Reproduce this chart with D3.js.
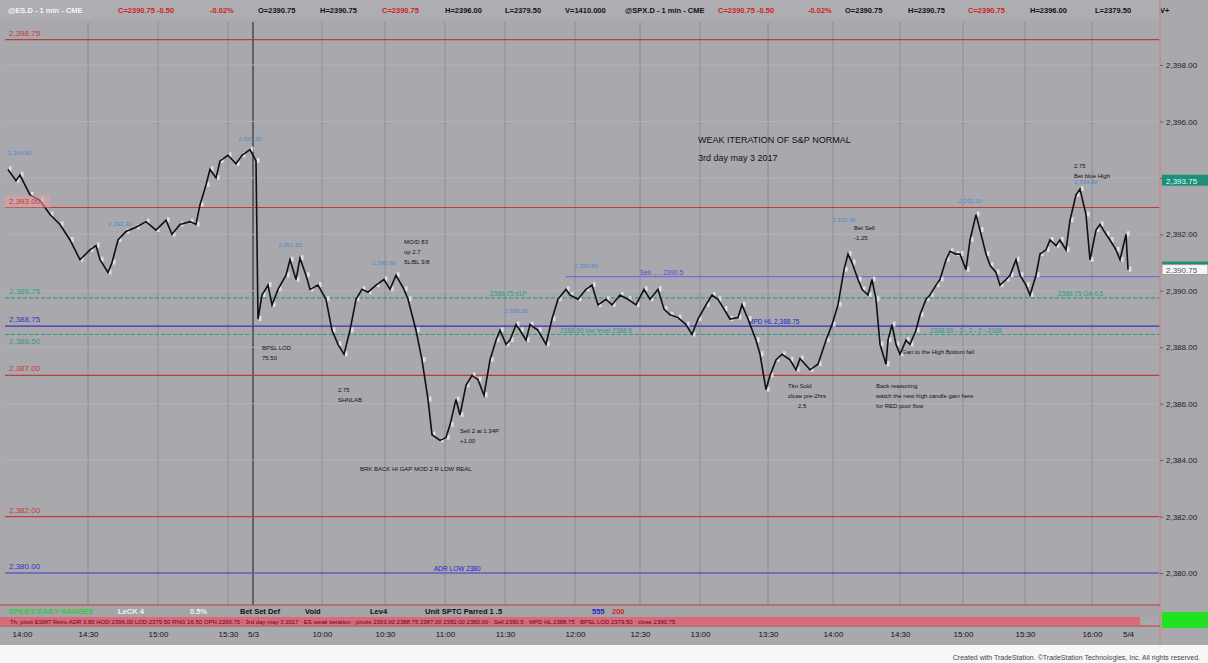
<!DOCTYPE html>
<html><head><meta charset="utf-8">
<script src="https://cdn.jsdelivr.net/npm/d3@7"></script>
<style>body{margin:0;background:#fff}svg{display:block;font-family:"Liberation Sans",Arial,sans-serif}</style>
</head><body><svg id="c" width="1208" height="663"></svg>
<script>
// ---- data ----
const bars = [0,4,6,11,16,21,26,31,36,41,44,46,50,52,55,59,64,69,74,79,82,86,91,94,96,99,101,104,106,110,114,117,121,124,
125,127,130,132,135,139,141,144,146,149,151,155,159,162,165,168,171,174,177,180,184,188,191,194,198,200,204,207,210,212,216,219,221,224,226,229,232,235,238,241,244,246,249,251,254,256,259,261,265,269,272,275,279,281,285,289,292,295,299,302,306,310,314,318,321,325,328,331,335,339,342,345,349,352,355,358,361,365,367,370,374,376,379,381,384,387,391,394,396,401,405,409,412,415,418,420,422,425,427,430,432,434,436,439,440,442,444,446,449,451,454,456,459,461,464,466,469,471,474,476,479,481,484,486,489,491,494,496,499,501,504,506,509,511,514,516,519,521,524,526,529,531,534,536,539,541,544,546,549,551,554,556,559,560];
const prices = [2394.3,2393.9,2394.1,2393.4,2393.2,2392.7,2392.35,2391.8,2391.1,2391.45,2391.6,2391.1,2390.65,2391.0,2391.8,2392.1,2392.25,2392.45,2392.15,2392.5,2392.0,2392.35,2392.45,2392.35,2393.05,2393.75,2394.3,2394.0,2394.6,2394.8,2394.5,2394.8,2395.0,2394.6,
2389.0,2389.85,2390.2,2389.5,2390.05,2390.55,2391.1,2390.4,2391.15,2390.55,2390.05,2390.2,2389.7,2388.6,2388.1,2387.75,2388.6,2389.7,2390.05,2389.95,2390.2,2390.4,2390.05,2390.55,2390.05,2389.7,2388.6,2387.55,2386.15,2384.9,2384.7,2384.8,2385.25,2386.15,2385.6,2386.65,2387.0,2386.85,2386.3,2387.55,2388.25,2388.6,2388.1,2388.25,2388.8,2388.6,2388.25,2388.8,2388.6,2388.1,2389.0,2389.7,2390.05,2389.85,2389.7,2390.05,2390.2,2389.5,2389.7,2389.5,2389.85,2389.7,2389.5,2390.05,2389.7,2390.05,2389.35,2389.15,2389.05,2388.8,2388.45,2389.0,2389.5,2389.85,2389.7,2389.35,2389.0,2389.05,2389.5,2389.0,2388.25,2387.75,2386.5,2387.0,2387.55,2387.75,2387.55,2387.2,2387.6,2387.2,2387.4,2388.25,2388.8,2389.5,2390.75,2391.3,2391.0,2390.4,2390.05,2389.85,2390.4,2389.7,2388.1,2387.4,2388.25,2388.8,2388.1,2387.75,2388.25,2388.1,2388.6,2389.15,2389.7,2389.85,2390.2,2390.4,2391.1,2391.4,2391.3,2391.3,2390.75,2391.8,2392.7,2392.15,2391.3,2390.9,2390.65,2390.2,2390.4,2390.55,2391.1,2390.55,2390.2,2389.85,2390.55,2391.3,2391.45,2391.8,2391.6,2391.8,2391.45,2392.5,2393.4,2393.6,2392.7,2391.1,2392.15,2392.35,2392.0,2391.8,2391.45,2391.1,2392.0,2390.75];

const yTicks = [2398,2396,2394,2392,2390,2388,2386,2384,2382,2380];
const hiddenTick = 2394; // covered by the green value box
const timeBars = [7,40,75,110,122.5,157,188.5,218.5,248.5,283.5,316,346,380,412.5,446,477.5,508.5,542,560];
const timeLabels = ["14:00","14:30","15:00","15:30","5/3","10:00","10:30","11:00","11:30","12:00","12:30","13:00","13:30","14:00","14:30","15:00","15:30","16:00","5/4"];
const dayBreakBar = 122.5;

const levelValues = [2398.9,2392.95,2389.75,2388.75,2388.45,2387.0,2382.0,2380.0];
const levelLabels = ["2,398.75","2,393.00","2,389.75","2,388.75","2,388.50","2,387.00","2,382.00","2,380.00"];
const levelKinds  = ["red","red","teal","blue","teal","red","red","blue"];
const labelBelow  = [false,false,false,false,true,false,false,false];
const sellLevel = 2390.5;
const sellStartBar = 279;

const notes = [
 {bar:345,p:2395.25,t:"WEAK ITERATION OF S&P NORMAL",big:true},
 {bar:345,p:2394.6,t:"3rd day  may 3 2017",big:true},
 {bar:127,p:2387.9,t:"BPSL LOD"},{bar:127,p:2387.55,t:"75.50"},
 {bar:165,p:2386.4,t:"2.75"},{bar:165,p:2386.05,t:"SHNLAB"},
 {bar:198,p:2391.65,t:"MO/D 83"},{bar:198,p:2391.3,t:"up 2.7"},{bar:198,p:2390.95,t:"5L/BL 3/8"},
 {bar:226,p:2384.95,t:"Sell 2 at 1.34P"},{bar:226,p:2384.6,t:"+1.00"},
 {bar:176,p:2383.6,t:"BRK BACK HI GAP MOD 2 R LOW REAL"},
 {bar:423,p:2392.15,t:"Bet Sell"},{bar:423,p:2391.8,t:"-1.25"},
 {bar:390,p:2386.55,t:"Tkn Sold"},{bar:390,p:2386.2,t:"close pre-2hrs"},{bar:395,p:2385.85,t:"2.5"},
 {bar:434,p:2386.55,t:"Back reasoning"},{bar:434,p:2386.2,t:"watch the new high  candle gain here"},{bar:434,p:2385.85,t:"for RED poor flow"},
 {bar:447,p:2387.75,t:"Gan  to the High  Bottom fail"},
 {bar:533,p:2394.35,t:"2.75"},{bar:533,p:2394.0,t:"Bet blue High"}
];
const lineTexts = [
 {bar:316,p:2390.5,t:"Sell ..... 2390.5",c:"#4b4bd0"},
 {bar:241,p:2389.75,t:"2389.75  x1P",c:"#2f9a8a"},
 {bar:525,p:2389.75,t:"2389.75 OA 0.5",c:"#2f9a8a"},
 {bar:370,p:2388.75,t:"MPD HL 2,388.75",c:"#2222cc"},
 {bar:276,p:2388.45,t:"2388.50  low level  2388.5",c:"#2f9a8a"},
 {bar:461,p:2388.45,t:"2388.50 - 2 - 2 - 2 - 2388",c:"#2f9a8a"},
 {bar:213,p:2380.0,t:"ADR LOW 2380",c:"#2222cc"}
];
const swingLabels = [
 {bar:0,p:2394.8},{bar:121,p:2395.3},{bar:141,p:2391.55},{bar:188,p:2390.9},{bar:254,p:2389.2},
 {bar:289,p:2390.8},{bar:418,p:2392.45},{bar:481,p:2393.1},{bar:539,p:2393.8},{bar:56,p:2392.3}
];
const headerItems = [
 ["@ES.D - 1 min - CME","#f4f4f4"],["C=2390.75  -0.50","#d42020"],["-0.02%","#d42020"],
 ["O=2390.75","#111"],["H=2390.75","#111"],["C=2390.75","#d42020"],["H=2396.00","#111"],
 ["L=2379.50","#111"],["V=1410.000","#111"],["@SPX.D - 1 min - CME","#111"],["C=2390.75  -0.50","#d42020"],
 ["-0.02%","#d42020"],["O=2390.75","#111"],["H=2390.75","#111"],["C=2390.75","#d42020"],["H=2396.00","#111"],["L=2379.50","#111"],["V+","#111"]
];
const legendItems = [
 ["SPX/ES DAILY RANGES","#2ecc40"],["LeCK  4","#f0f0f0"],["0.5%","#f0f0f0"],["Bet  Set  Def","#111"],
 ["Void","#111"],["Lev4","#111"],["Unit SPTC Parred 1 .5","#111"],["555","#2222cc"],["200","#d42020"]
];

// ---- drawing ----
const svg = d3.select("#c");
const W=1208,H=663, L=5, R=1160, T=22, B=605;
const x = d3.scaleLinear().domain([0,560]).range([8,1128]);
const y = d3.scaleLinear().domain([2398,2380]).range([65,573]);

svg.append("rect").attr("width",W).attr("height",H).attr("fill","#fff");
svg.append("rect").attr("x",0).attr("y",0).attr("width",W).attr("height",645).attr("fill","#a9a9ad");
svg.append("rect").attr("x",0).attr("y",0).attr("width",1160).attr("height",20).attr("fill","#aeaeb2");
const hx = [8,118,210,258,320,382,445,505,565,625,718,808,845,908,968,1030,1095,1160];
headerItems.forEach((d,i)=>svg.append("text").attr("x",hx[i]).attr("y",13).attr("font-size",7.5)
  .attr("fill",d[1]).attr("font-weight","bold").text(d[0]));

const g = svg.append("g");
g.append("clipPath").attr("id","clip").append("rect").attr("x",L).attr("y",T).attr("width",R-L).attr("height",B-T);
const plot = g.append("g").attr("clip-path","url(#clip)");

plot.selectAll(".vg").data(timeBars.slice(1,-1)).join("line")
 .attr("x1",d=>x(d)).attr("x2",d=>x(d)).attr("y1",T).attr("y2",B)
 .attr("stroke",d=>d===dayBreakBar?"#4e4e52":"#8c8c90").attr("stroke-width",d=>d===dayBreakBar?1.6:1);
plot.selectAll(".hg").data(yTicks).join("line")
 .attr("x1",L).attr("x2",R).attr("y1",d=>y(d)).attr("y2",d=>y(d)).attr("stroke","#b3b3b7").attr("stroke-width",1);

const kc = {red:"#c23a3a",teal:"#2f9a8a",blue:"#3434c4"};
svg.append("rect").attr("x",5).attr("y",y(levelValues[1])-12).attr("width",45).attr("height",12).attr("fill","#e0a0a0").attr("opacity",0.6);
plot.selectAll(".lv").data(levelValues).join("line")
 .attr("x1",L).attr("x2",R).attr("y1",d=>y(d)).attr("y2",d=>y(d))
 .attr("stroke",(d,i)=>kc[levelKinds[i]]).attr("stroke-width",1.2)
 .attr("stroke-dasharray",(d,i)=>levelKinds[i]==="teal"?"4,2":null);
plot.append("line").attr("x1",x(sellStartBar)).attr("x2",R).attr("y1",y(sellLevel)).attr("y2",y(sellLevel))
 .attr("stroke","#7a6ad8").attr("stroke-width",1.4);
svg.selectAll(".lvt").data(levelValues).join("text")
 .attr("x",9).attr("y",(d,i)=>labelBelow[i]?y(d)+9:y(d)-4).attr("font-size",8).attr("fill",(d,i)=>kc[levelKinds[i]]).text((d,i)=>levelLabels[i]);

plot.selectAll(".lt").data(lineTexts).join("text").attr("x",d=>x(d.bar)).attr("y",d=>y(d.p)-2)
 .attr("font-size",6.5).attr("fill",d=>d.c).text(d=>d.t);

const line = d3.line().x((d,i)=>x(bars[i])).y(d=>y(d));
plot.selectAll(".hd").data(prices).join("rect")
 .attr("x",(d,i)=>x(bars[i])+1).attr("y",d=>y(d)-3).attr("width",2.5).attr("height",5)
 .attr("fill","#eeeeee").attr("opacity",0.8);
plot.append("path").datum(prices).attr("d",line).attr("fill","none").attr("stroke","#111").attr("stroke-width",1.6);

plot.selectAll(".sw").data(swingLabels).join("text").attr("x",d=>x(d.bar)).attr("y",d=>y(d.p))
 .attr("font-size",6).attr("fill","#4a8ad0").attr("text-anchor",d=>d.bar<10?"start":"middle").text(d=>d3.format(",.2f")(d.p));

plot.selectAll(".nt").data(notes).join("text").attr("x",d=>x(d.bar)).attr("y",d=>y(d.p))
 .attr("font-size",d=>d.big?9:6).attr("fill","#111").text(d=>d.t);

svg.append("line").attr("x1",R).attr("x2",R).attr("y1",0).attr("y2",645).attr("stroke","#c88a8a").attr("stroke-width",1.5);
const yAxis = d3.axisRight(y).tickValues(yTicks).tickFormat(d=>d===hiddenTick?"":d3.format(",.2f")(d)).tickSize(3);
const ya = svg.append("g").attr("transform",`translate(${R},0)`).call(yAxis);
ya.select(".domain").remove();
ya.selectAll("text").attr("font-size",8).attr("fill","#222").attr("font-family","Liberation Sans");
ya.selectAll("line").attr("stroke","#666");
svg.append("rect").attr("x",R+2).attr("y",y(2393.9)-6).attr("width",46).attr("height",11).attr("fill","#1f8f7a");
svg.append("text").attr("x",R+6).attr("y",y(2393.9)+3).attr("font-size",8).attr("fill","#dff").text("2,393.75");
svg.append("rect").attr("x",R+2).attr("y",y(2391.0)-1).attr("width",46).attr("height",3).attr("fill","#1f8f7a");
svg.append("rect").attr("x",R+2).attr("y",y(2390.75)-5).attr("width",46).attr("height",10).attr("fill","#f6f6f6").attr("stroke","#999");
svg.append("text").attr("x",R+6).attr("y",y(2390.75)+3).attr("font-size",8).attr("fill","#555").text("2,390.75");
svg.append("rect").attr("x",R+2).attr("y",612).attr("width",46).attr("height",16).attr("fill","#22e022");

svg.append("rect").attr("x",0).attr("y",605).attr("width",R).attr("height",12).attr("fill","#a4a4a8");
svg.append("line").attr("x1",0).attr("x2",R).attr("y1",605).attr("y2",605).attr("stroke","#c23a3a");
const lx=[8,118,190,240,305,370,425,592,612];
legendItems.forEach((d,i)=>svg.append("text").attr("x",lx[i]).attr("y",614).attr("font-size",7.5).attr("font-weight","bold").attr("fill",d[1]).text(d[0]));
svg.append("rect").attr("x",0).attr("y",617).attr("width",1140).attr("height",8).attr("fill","#d86a7a");
svg.append("text").attr("x",10).attr("y",623.5).attr("font-size",6).attr("fill","#6a0010")
 .text("Th. pivot ESM7 Retro  ADR 3.80 HOD 2396.00 LOD 2379.50 RNG 16.50  OPN 2390.75  ·  3rd day may 3 2017  ·  ES weak iteration  ·  pivots 2393.00 2388.75 2387.00 2382.00 2380.00  ·  Sell 2390.5  ·  MPD HL 2388.75  ·  BPSL LOD 2379.50  ·  close 2390.75");
svg.append("line").attr("x1",0).attr("x2",R).attr("y1",626).attr("y2",626).attr("stroke","#c23a3a");

const xa = svg.append("g").attr("transform","translate(0,627)")
 .call(d3.axisBottom(x).tickValues(timeBars).tickFormat((d,i)=>timeLabels[i]).tickSize(0));
xa.select(".domain").remove();
xa.selectAll("text").attr("font-size",8).attr("fill","#111").attr("dy","0.9em").attr("font-family","Liberation Sans");

svg.append("rect").attr("x",0).attr("y",645).attr("width",W).attr("height",18).attr("fill","#f7f7f7");
svg.append("text").attr("x",1200).attr("y",660).attr("text-anchor","end").attr("font-size",7).attr("fill","#444")
 .text("Created with TradeStation. ©TradeStation Technologies, Inc. All rights reserved.");
</script></body></html>
